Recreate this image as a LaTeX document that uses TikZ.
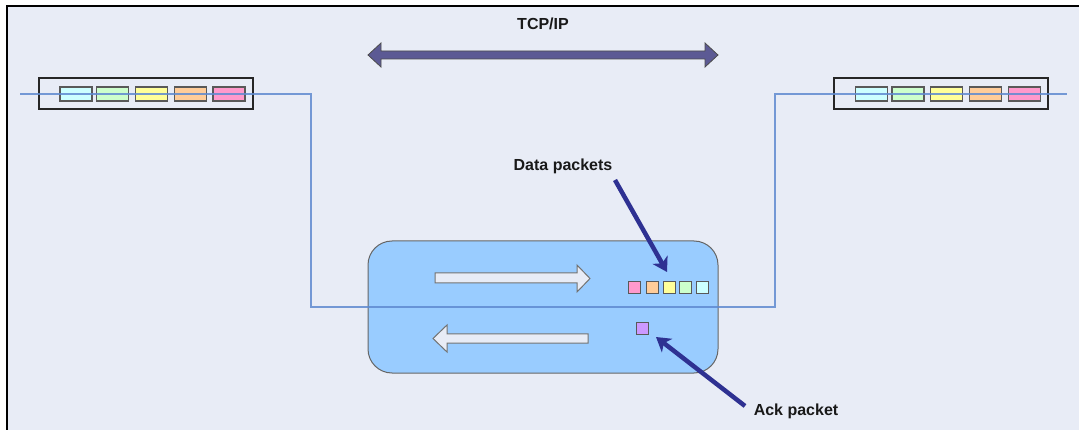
\documentclass[tikz,border=0pt]{standalone}
\usepackage{fontspec}
\setmainfont{Liberation Sans}
\usetikzlibrary{arrows.meta}
\definecolor{bg}{HTML}{E8ECF6}
\definecolor{linkfill}{HTML}{99CCFF}
\definecolor{wireblue}{HTML}{5F8AD0}
\definecolor{tcpcol}{HTML}{5C5A94}
\definecolor{navy}{HTML}{2E3192}
\definecolor{pcyan}{HTML}{CCFFFF}
\definecolor{pgreen}{HTML}{CCFFCC}
\definecolor{pyellow}{HTML}{FFFF99}
\definecolor{porange}{HTML}{FFCC99}
\definecolor{ppink}{HTML}{FF99CC}
\definecolor{ppurple}{HTML}{CC99FF}
\tikzset{
  hostbox/.style={draw=black!85, line width=1.2pt, minimum width=214pt, minimum height=31pt, inner sep=0pt},
  pkt/.style={draw=black!65, line width=1.2pt, minimum width=32pt, minimum height=14pt, inner sep=0pt},
  sq/.style={draw=black!65, line width=1pt, minimum width=12pt, minimum height=12pt, inner sep=0pt},
  wire/.style={draw=wireblue, line width=1.6pt, opacity=0.85},
  linkbox/.style={draw=black!60, line width=1pt, fill=linkfill, rounded corners=24pt, minimum width=350pt, minimum height=132pt, inner sep=0pt},
  lbl/.style={font=\fontsize{16}{19}\selectfont\bfseries, text=black!90, inner sep=0pt},
  pointer/.style={draw=navy, line width=4.5pt, -{Stealth[length=14pt,width=17pt,inset=4pt]}},
  flowarrow/.style={draw=black!55, line width=1pt, fill=bg, line join=miter},
}
\begin{document}
\begin{tikzpicture}[x=1pt,y=-1pt]
\useasboundingbox (0,0) rectangle (1079,430);
\fill[white] (0,0) rectangle (1079,430);
\fill[bg] (7,6) rectangle (1079,430);
\draw[line width=1.5pt] (7,430) -- (7,6) -- (1079,6);

% TCP/IP label and double arrow
\node[lbl] (tcp) at (543,24) {TCP/IP};
\draw[draw=black!70, line width=0.8pt, fill=tcpcol, line join=miter]
  (368,55) -- (381,43) -- (381,51) -- (705,51) -- (705,43) -- (718,55)
  -- (705,67) -- (705,59) -- (381,59) -- (381,67) -- cycle;

% link box
\node[linkbox] (link) at (543,307) {};

% wire
\coordinate (wl) at (20,94);
\coordinate (bendA) at (311,94);
\coordinate (bendB) at (311,307);
\coordinate (bendC) at (775,307);
\coordinate (bendD) at (775,94);
\coordinate (wr) at (1067,94);

% left host
\node[hostbox] (lhost) at (146,93.5) {};
\node[pkt, fill=pcyan]   (l1) at (76,94) {};
\node[pkt, fill=pgreen]  (l2) at (112.5,94) {};
\node[pkt, fill=pyellow] (l3) at (151.5,94) {};
\node[pkt, fill=porange] (l4) at (190.5,94) {};
\node[pkt, fill=ppink]   (l5) at (229,94) {};

% right host
\node[hostbox] (rhost) at (941,93.5) {};
\node[pkt, fill=pcyan]   (r1) at (871.5,94) {};
\node[pkt, fill=pgreen]  (r2) at (908,94) {};
\node[pkt, fill=pyellow] (r3) at (946.5,94) {};
\node[pkt, fill=porange] (r4) at (985.5,94) {};
\node[pkt, fill=ppink]   (r5) at (1024.5,94) {};

\draw[wire] (wl) -- (bendA) -- (bendB) -- (bendC) -- (bendD) -- (wr);

% flow arrows
\draw[flowarrow] (435,273) -- (577,273) -- (577,265) -- (590,278.5) -- (577,292) -- (577,283) -- (435,283) -- cycle;
\draw[flowarrow] (588,334) -- (447,334) -- (447,325) -- (433,338.5) -- (447,352) -- (447,343) -- (588,343) -- cycle;

% packets in transit
\node[sq, fill=ppink]   (d1) at (634,288) {};
\node[sq, fill=porange] (d2) at (652,288) {};
\node[sq, fill=pyellow] (d3) at (669,288) {};
\node[sq, fill=pgreen]  (d4) at (685,288) {};
\node[sq, fill=pcyan]   (d5) at (702,288) {};
\node[sq, fill=ppurple] (ack) at (642,329) {};

% labels and pointers
\node[lbl] (dlabel) at (563,166) {Data packets};
\node[lbl] (alabel) at (796,411) {Ack packet};
\coordinate (dtail) at (615,180);
\coordinate (dtip) at (667,272);
\coordinate (atail) at (745,406);
\coordinate (atip) at (656,337);
\draw[pointer] (dtail) -- (dtip);
\draw[pointer] (atail) -- (atip);
\end{tikzpicture}
\end{document}
